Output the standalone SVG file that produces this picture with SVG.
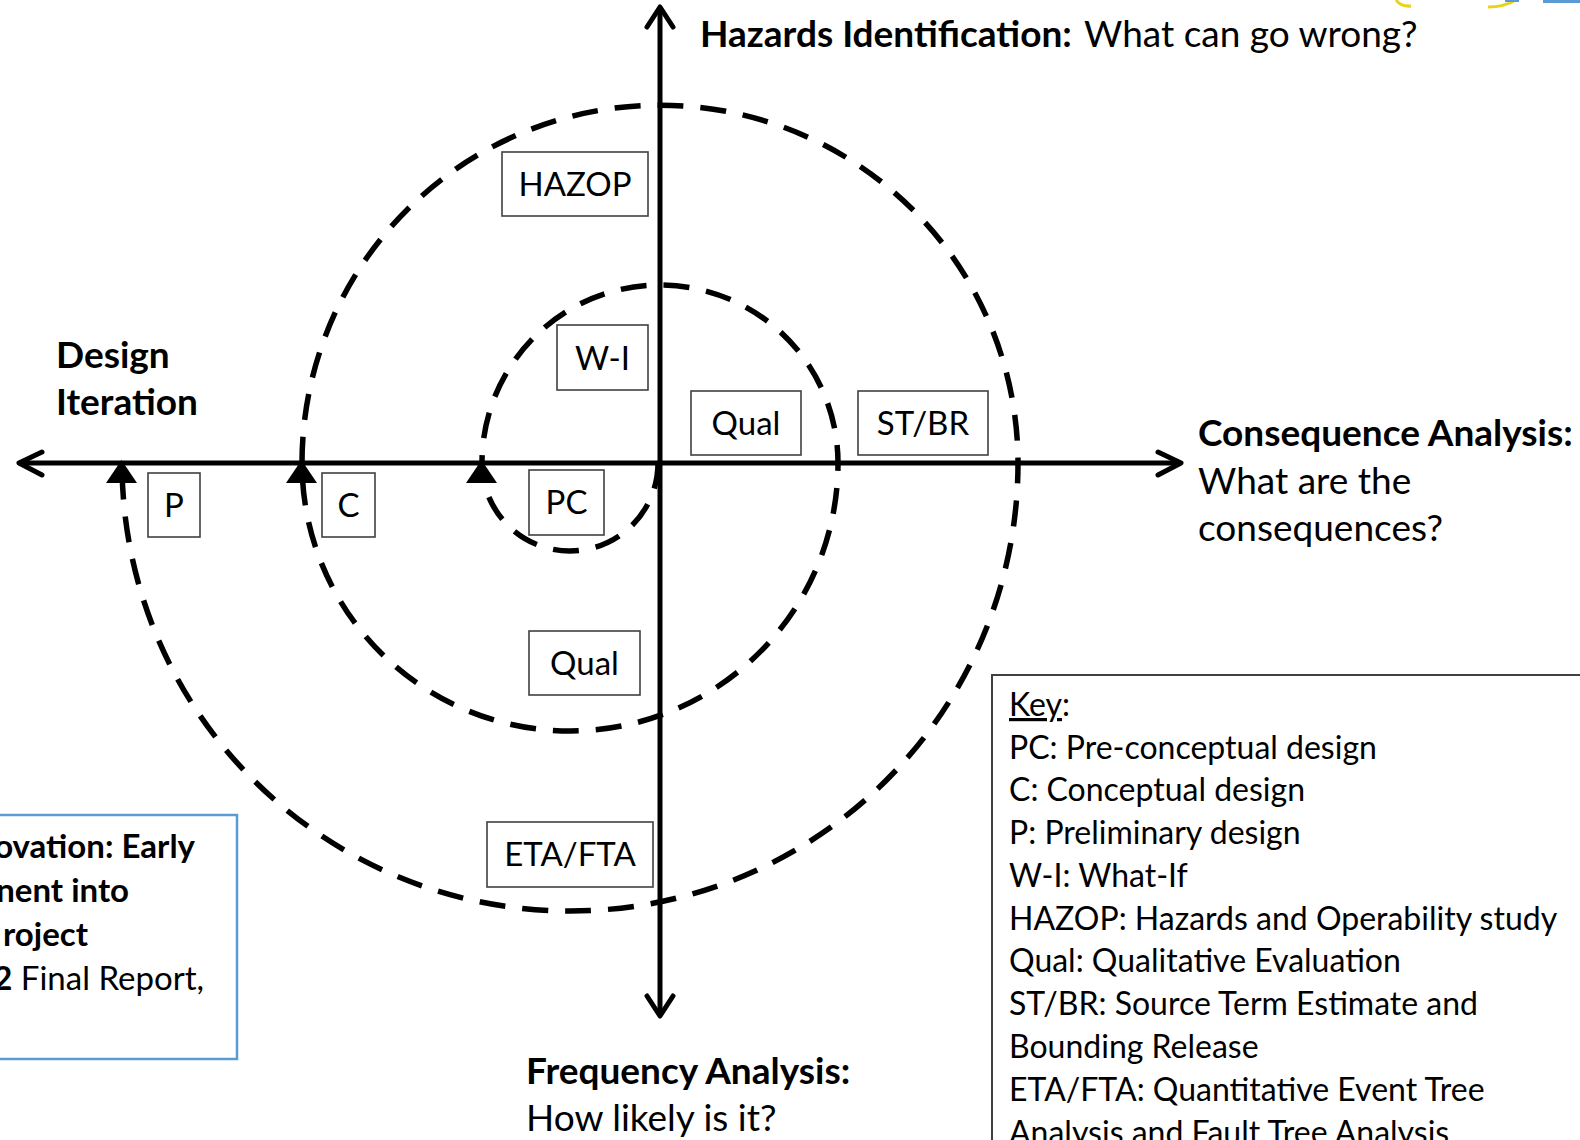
<svg xmlns="http://www.w3.org/2000/svg" width="1580" height="1140" viewBox="0 0 1580 1140">
  <style>
    text { font-family: Lato, "Liberation Sans", sans-serif; fill: #000; }
    .lbl { font-size: 37px; }
    .note { font-size: 33px; }
    .b { font-weight: bold; }
    .box rect { fill: #fff; stroke: #404040; stroke-width: 1.6; }
    .box text { font-size: 33px; text-anchor: middle; }
    .key { font-size: 32px; }
    .axis { stroke: #000; stroke-width: 5; fill: none; stroke-linecap: round; stroke-linejoin: round; }
    .spiral { stroke: #000; stroke-width: 5.5; fill: none; stroke-dasharray: 26 17; }
    .tri { fill: #000; }
  </style>

  <!-- corner logo fragments -->
  <g id="logo">
    <path d="M1396 0 Q1401 7 1411 6" fill="none" stroke="#e8d21a" stroke-width="3"/>
    <path d="M1488 7 Q1504 7 1516 0" fill="none" stroke="#e8d21a" stroke-width="3"/>
    <rect x="1505" y="0" width="14" height="2" fill="#5b9bd5"/>
    <rect x="1543" y="0" width="37" height="3" fill="#5b9bd5"/>
  </g>

  <!-- axes and design-iteration spiral -->
  <g id="connectors">
    <line class="axis" x1="660" y1="9" x2="660" y2="1014"/>
    <polyline class="axis" points="647,27 660,7 673,27"/>
    <polyline class="axis" points="647,996 660,1016 673,996"/>
    <line class="axis" x1="20" y1="463" x2="1179" y2="463"/>
    <polyline class="axis" points="42,452 19,463 42,475"/>
    <polyline class="axis" points="1158,452 1181,463 1158,475"/>

    <!-- semicircles alternate between centres (660,463) above and (570,463) below -->
    <path class="spiral" d="M658 463 A88 88 0 0 1 482 463 A178 178 0 0 1 838 463 A268 268 0 0 1 302 463 A358 358 0 0 1 1018 463 A448 448 0 0 1 122 463"/>
    <polygon class="tri" points="481.5,460 466,483 497,483"/>
    <polygon class="tri" points="301.5,460 286,483 317,483"/>
    <polygon class="tri" points="121.5,460 106,483 137,483"/>
  </g>

  <!-- method boxes -->
  <g id="hazop" class="box"><rect x="502" y="152" width="146" height="64"/><text x="575" y="196">HAZOP</text></g>
  <g id="wi" class="box"><rect x="557" y="325" width="91" height="65"/><text x="602.5" y="370">W-I</text></g>
  <g id="qual-upper" class="box"><rect x="691" y="391" width="110" height="64"/><text x="746" y="435">Qual</text></g>
  <g id="stbr" class="box"><rect x="858" y="391" width="130" height="64"/><text x="923" y="435">ST/BR</text></g>
  <g id="p" class="box"><rect x="148" y="473" width="52" height="64"/><text x="174" y="517">P</text></g>
  <g id="c" class="box"><rect x="322" y="473" width="53" height="64"/><text x="348.5" y="517">C</text></g>
  <g id="pc" class="box"><rect x="529" y="470" width="75" height="65"/><text x="566.5" y="514">PC</text></g>
  <g id="qual-lower" class="box"><rect x="529" y="631" width="111" height="64"/><text x="584.5" y="675">Qual</text></g>
  <g id="etafta" class="box"><rect x="487" y="822" width="166" height="65"/><text x="570" y="866">ETA/FTA</text></g>

  <!-- axis labels -->
  <g id="label-hazards">
    <text class="lbl" y="47"><tspan class="b" x="700">Hazards Identification:</tspan><tspan x="1084">What can go wrong?</tspan></text>
  </g>
  <g id="label-design">
    <text class="lbl b" x="56" y="368">Design</text>
    <text class="lbl b" x="56" y="415">Iteration</text>
  </g>
  <g id="label-consequence">
    <text class="lbl b" x="1198" y="446">Consequence Analysis:</text>
    <text class="lbl" x="1198" y="494">What are the</text>
    <text class="lbl" x="1198" y="541">consequences?</text>
  </g>
  <g id="label-frequency">
    <text class="lbl b" x="526" y="1084">Frequency Analysis:</text>
    <text class="lbl" x="526" y="1131">How likely is it?</text>
  </g>

  <!-- source note -->
  <g id="source-note">
    <rect x="-5" y="815" width="242" height="244" fill="#fff" stroke="#5b9bd5" stroke-width="2.5"/>
    <text class="note b" x="195" y="858" text-anchor="end">ovation: Early</text>
    <text class="note b" x="129" y="902" text-anchor="end">nent into</text>
    <text class="note b" x="88" y="946" text-anchor="end">roject</text>
    <text class="note" x="204" y="990" text-anchor="end"><tspan class="b">2</tspan> Final Report,</text>
  </g>

  <!-- key -->
  <g id="key">
    <rect x="992" y="675" width="600" height="480" fill="#fff" stroke="#404040" stroke-width="2"/>
    <text class="key" x="1009" y="716"><tspan text-decoration="underline">Key</tspan>:</text>
    <text class="key" x="1009" y="759">PC: Pre-conceptual design</text>
    <text class="key" x="1009" y="801">C: Conceptual design</text>
    <text class="key" x="1009" y="844">P: Preliminary design</text>
    <text class="key" x="1009" y="887">W-I: What-If</text>
    <text class="key" x="1009" y="930">HAZOP: Hazards and Operability study</text>
    <text class="key" x="1009" y="972">Qual: Qualitative Evaluation</text>
    <text class="key" x="1009" y="1015">ST/BR: Source Term Estimate and</text>
    <text class="key" x="1009" y="1058">Bounding Release</text>
    <text class="key" x="1009" y="1101">ETA/FTA: Quantitative Event Tree</text>
    <text class="key" x="1009" y="1144">Analysis and Fault Tree Analysis</text>
  </g>
</svg>
